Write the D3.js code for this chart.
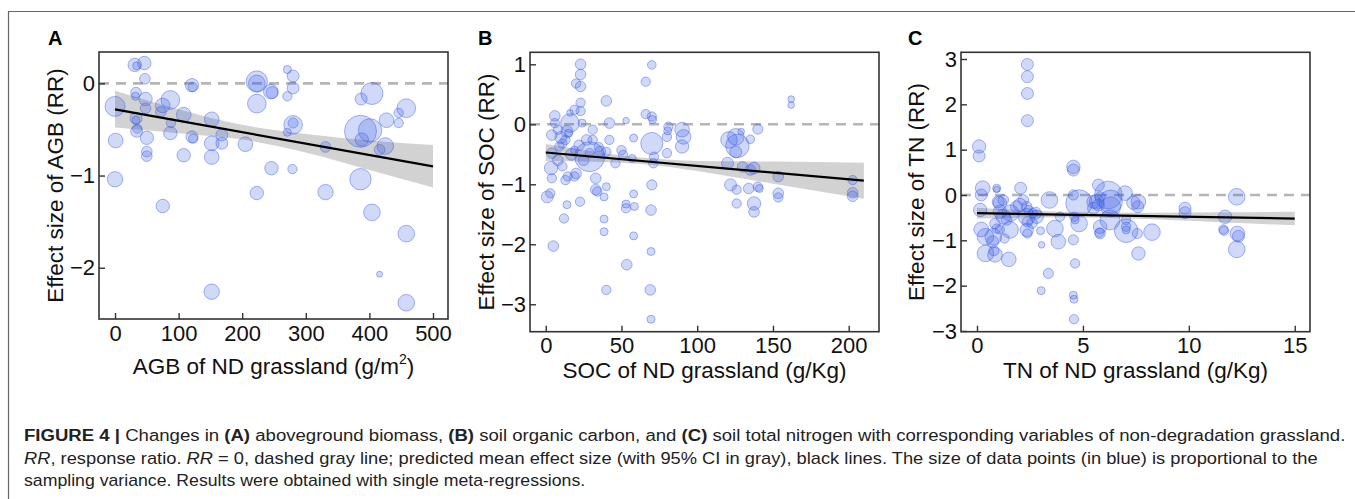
<!DOCTYPE html>
<html lang="en">
<head>
<meta charset="UTF-8">
<title>Figure 4</title>
<style>
  body { margin: 0; background: #fff; }
  svg { display: block; font-family: Arial, "Liberation Sans", sans-serif; }
</style>
</head>
<body>
<script src="https://d3js.org/d3.v7.min.js"></script>
<div id="fig"></div>
<script>
// ---- data ----
// (A) aboveground biomass
const agbX = [0, 1, 0, 31, 34, 46, 47, 33, 32, 48, 48, 33, 33, 34, 35, 50, 50, 50, 75, 87, 72, 87, 88, 108, 108,
  121, 122, 121, 123, 75, 152, 152, 152, 168, 168, 152, 205, 223, 223, 223, 223, 245, 247, 246, 271, 280, 280,
  271, 280, 280, 271, 279, 331, 331, 386, 388, 387, 404, 401, 386, 404, 416, 425, 427, 446, 446, 458, 458, 416, 458];
const agbRR = [-0.25, -0.62, -1.04, 0.20, 0.19, 0.22, 0.05, -0.10, -0.14, -0.17, -0.27, -0.38, -0.40, -0.52, -0.49,
  -0.59, -0.74, -0.79, -0.24, -0.18, -0.31, -0.54, -0.43, -0.34, -0.78, -0.02, -0.04, -0.58, -0.60, -1.33, -0.39,
  -0.65, -0.80, -0.56, -0.65, -2.26, -0.66, 0.02, 0.00, -0.22, -1.19, -0.09, -0.10, -0.92, 0.15, 0.08, -0.05, -0.14,
  -0.45, -0.43, -0.53, -0.93, -0.69, -1.18, -0.52, -0.61, -0.17, -0.11, -0.51, -1.04, -1.40, -0.72, -0.68, -0.40,
  -0.32, -0.43, -0.27, -1.63, -2.07, -2.38];
const agbVar = [0.78, 0.42, 0.46, 0.35, 0.125, 0.35, 0.22, 0.22, 0.125, 0.35, 0.22, 0.28, 0.125, 0.28, 0.17, 0.35,
  0.22, 0.22, 0.42, 0.68, 0.22, 0.35, 0.17, 0.42, 0.35, 0.35, 0.17, 0.28, 0.17, 0.35, 0.42, 0.42, 0.42, 0.28, 0.28,
  0.46, 0.42, 0.89, 0.54, 0.68, 0.35, 0.42, 0.28, 0.35, 0.125, 0.28, 0.28, 0.17, 0.68, 0.2, 0.125, 0.17, 0.22, 0.46,
  2.0, 0.35, 0.28, 0.95, 1.07, 0.89, 0.54, 0.22, 0.54, 0.42, 0.17, 0.17, 0.68, 0.54, 0.07, 0.54];
const agbFitX = [0, 500];
const agbFitY = [-0.283, -0.90];
const agbBandX = [0, 100, 200, 300, 400, 500];
const agbBandHi = [-0.08, -0.28, -0.45, -0.55, -0.62, -0.67];
const agbBandLo = [-0.48, -0.54, -0.61, -0.75, -0.94, -1.13];

// (B) soil organic carbon
const socX = [1, 3, 6, 6, 4, 4, 3.5, 4, 5, 8, 9, 11, 13, 14.5, 14, 12, 14, 15, 13, 11, 16, 16, 19, 20, 23, 23, 23,
  23, 23, 24, 19, 20, 19, 22.6, 27, 29, 29, 31, 31, 33, 33, 34, 38.5, 38.5, 38.5, 40, 42, 42, 40, 40, 40, 46, 50,
  51, 53, 53.5, 53, 53, 58, 58, 58.5, 58, 57, 66, 66, 70, 70, 70.5, 70, 71.5, 71, 70, 69.5, 69.5, 69, 69.5, 81, 80,
  80.5, 80, 90, 91, 90, 121, 126.5, 125.5, 125.5, 129, 135, 140, 120, 122, 126, 126, 130, 134, 135, 137.5, 137.5,
  137.5, 140, 141, 153.5, 153.5, 153.5, 162, 162, 202.6, 202.6, 202.6,
  10, 17, 22, 8, 25, 35, 36];
const socRR = [-1.21, -1.15, 0.14, 0.02, -0.18, -0.48, -0.73, -0.90, -2.03, -0.09, -0.37, -0.70, -0.93, -0.87,
  -1.34, -1.57, -0.12, -0.15, -0.26, -0.32, 0.02, 0.19, 0.24, 0.68, 1.00, 0.83, 0.63, 0.36, 0.22, 0.02, -0.43,
  -0.82, -0.87, -1.29, -0.26, -0.48, -0.54, -0.09, -0.26, -0.90, -1.09, -1.12, -1.21, -1.58, -1.79, 0.39, 0.02,
  -0.26, -0.46, -1.04, -2.76, -0.65, -0.43, -0.51, 0.06, -2.34, -1.40, -1.33, -1.16, -0.23, -1.37, -1.86, -0.57,
  0.71, 0.17, 0.99, 0.13, 0.08, -0.32, -0.54, -0.65, -1.01, -1.43, -2.12, -2.76, -3.25, -0.04, -0.21, -0.11, -0.48,
  -0.09, -0.21, -0.37, -0.26, -0.36, -0.21, -0.46, -0.12, -0.25, -0.08, -0.65, -1.01, -1.09, -1.32, -0.71, -1.07,
  -0.76, -0.73, -1.32, -1.46, -1.04, -1.07, -0.87, -1.15, -1.22, 0.42, 0.32, -0.93, -1.14, -1.20,
  -0.22, -0.50, -0.35, -0.60, -0.60, -0.38, -0.45];
const socVar = [0.28, 0.17, 0.22, 0.17, 0.22, 0.22, 0.35, 0.17, 0.22, 0.17, 0.17, 0.17, 0.17, 0.17, 0.125, 0.17,
  0.28, 0.125, 0.17, 0.17, 0.68, 0.085, 0.17, 0.17, 0.22, 0.22, 0.22, 0.17, 0.17, 0.125, 0.125, 0.22, 0.17, 0.17,
  0.22, 0.17, 1.76, 0.17, 0.17, 0.22, 0.22, 0.17, 0.125, 0.125, 0.125, 0.22, 0.22, 0.17, 0.17, 0.125, 0.17, 0.17,
  0.17, 0.17, 0.085, 0.22, 0.17, 0.125, 0.125, 0.125, 0.125, 0.125, 0.125, 0.17, 0.17, 0.145, 0.17, 0.125, 0.95,
  0.17, 0.17, 0.2, 0.22, 0.125, 0.22, 0.125, 0.17, 0.17, 0.125, 0.17, 0.42, 0.42, 0.35, 0.54, 1.07, 0.54, 0.28,
  0.085, 0.145, 0.2, 0.28, 0.28, 0.17, 0.17, 0.22, 0.22, 0.22, 0.28, 0.35, 0.22, 0.17, 0.125, 0.22, 0.22, 0.17,
  0.085, 0.085, 0.17, 0.22, 0.22,
  0.28, 0.28, 0.22, 0.22, 0.22, 0.17, 0.22];
const socFitX = [0, 210];
const socFitY = [-0.47, -0.94];
const socBandX = [0, 25, 50, 75, 100, 150, 210];
const socBandHi = [-0.33, -0.43, -0.52, -0.58, -0.61, -0.62, -0.64];
const socBandLo = [-0.61, -0.62, -0.64, -0.69, -0.78, -0.99, -1.24];

// (C) soil total nitrogen
const tnX = [0.1, 0.1, 0.27, 0.2, 0.15, 0.2, 0.4, 0.4, 0.74, 0.8, 0.93, 0.93, 1.0, 1.08, 0.85, 0.93, 1.08, 1.24,
  1.4, 1.3, 1.5, 1.58, 1.87, 2.06, 2.19, 2.35, 2.38, 2.38, 2.38, 2.38, 2.38, 2.38, 2.43, 2.63, 2.6, 2.76, 3.0, 3.05,
  3.03, 3.37, 3.42, 3.68, 3.84, 3.92, 4.55, 4.55, 4.55, 4.6, 4.63, 4.55, 4.63, 4.55, 4.58, 4.58, 4.82, 4.82, 5.73,
  5.5, 5.65, 5.73, 5.5, 5.81, 5.81, 5.81, 5.78, 6.31, 6.31, 6.2, 6.28, 6.99, 7.04, 7.04, 7.04, 7.04, 7.38, 7.62,
  7.59, 7.57, 7.62, 8.26, 9.82, 9.82, 11.71, 11.63, 11.66, 12.26, 12.29, 12.34, 12.26,
  0.85, 0.77, 1.56, 2.35, 2.35, 2.03, 2.82, 1.24, 1.08];
const tnRR = [1.07, 0.86, 0.15, 0.0, -0.33, -0.76, -0.92, -1.29, -1.03, -1.23, 0.15, 0.12, -0.15, -0.37, -0.63,
  -0.74, -0.76, -0.11, -0.55, -0.96, -1.42, -0.40, -0.26, 0.15, -0.11, -0.26, 2.88, 2.61, 2.24, 1.64, -0.59, -0.85,
  -0.33, -0.40, -0.62, -0.40, -0.79, -1.10, -2.11, -1.73, -0.11, -0.74, -1.03, -0.48, 0.62, 0.55, 0.0, -0.48,
  -0.55, -0.99, -1.51, -2.21, -2.30, -2.74, -0.18, -0.63, 0.22, -0.15, -0.15, -0.22, -0.29, -0.04, -0.70, -0.85,
  -0.83, -0.15, -0.26, 0.0, -0.55, 0.04, -0.55, -0.70, -0.77, -0.79, -0.17, -0.15, -0.26, -0.85, -1.29, -0.82,
  -0.29, -0.39, -0.48, -0.76, -0.79, -0.04, -0.85, -0.91, -1.20,
  -1.32, -0.92, -0.77, -0.77, -0.48, -0.22, -0.48, -0.48, -0.18];
const tnVar = [0.35, 0.28, 0.42, 0.28, 0.35, 0.42, 0.54, 0.54, 0.28, 0.2, 0.125, 0.085, 0.28, 0.35, 0.22, 0.17,
  0.17, 0.22, 0.22, 0.17, 0.42, 0.54, 0.28, 0.28, 0.22, 0.22, 0.28, 0.28, 0.28, 0.28, 0.22, 0.17, 0.17, 0.17, 0.22,
  0.28, 0.125, 0.085, 0.125, 0.2, 0.54, 0.54, 0.42, 0.17, 0.35, 0.28, 0.2, 0.17, 0.125, 0.2, 0.17, 0.125, 0.125,
  0.17, 1.38, 0.54, 0.28, 0.35, 0.42, 0.28, 0.28, 0.2, 0.35, 0.22, 0.17, 1.07, 0.78, 1.5, 0.78, 0.42, 0.17, 0.17,
  0.125, 1.07, 0.35, 0.42, 0.28, 0.2, 0.35, 0.54, 0.28, 0.28, 0.35, 0.17, 0.17, 0.54, 0.42, 0.28, 0.54,
  0.42, 0.54, 0.54, 0.35, 0.54, 0.35, 0.35, 0.42, 0.35];
const tnFitX = [0, 15];
const tnFitY = [-0.40, -0.52];
const tnBandX = [0, 4, 8, 12, 15];
const tnBandHi = [-0.28, -0.37, -0.39, -0.38, -0.37];
const tnBandLo = [-0.52, -0.49, -0.53, -0.61, -0.67];

// tick labels
const agbTicksX = [0, 100, 200, 300, 400, 500];
const agbTicksY = [-2, -1, 0];
const socTicksX = [0, 50, 100, 150, 200];
const socTicksY = [-3, -2, -1, 0, 1];
const tnTicksX = [0, 5, 10, 15];
const tnTicksY = [-3, -2, -1, 0, 1, 2, 3];

// ---- drawing ----
const W = 1355, H = 499;
const svg = d3.select("#fig").append("svg")
  .attr("width", W).attr("height", H);

svg.append("rect").attr("width", W).attr("height", H).attr("fill", "#fff");

// outer frame (left and top only)
svg.append("path")
  .attr("d", `M8.5,${H} V11.5 H${W}`)
  .attr("fill", "none").attr("stroke", "#666").attr("stroke-width", 1.2);

const rScale = d3.scaleSqrt().domain([0, 2]).range([0, 16]);
const ptColor = "#3a5ae6";

function drawPanel(p) {
  const x = d3.scaleLinear().domain(p.xDomain).range([p.left, p.right]);
  const y = d3.scaleLinear().domain(p.yDomain).range([p.bottom, p.top]);
  const g = svg.append("g");

  const clipId = "clip" + p.letter;
  svg.append("clipPath").attr("id", clipId)
    .append("rect")
    .attr("x", p.left).attr("y", p.top)
    .attr("width", p.right - p.left).attr("height", p.bottom - p.top);
  const inner = g.append("g").attr("clip-path", `url(#${clipId})`);

  // 95% CI band
  const band = p.bandX.map((v, i) => ({ x: v, hi: p.bandHi[i], lo: p.bandLo[i] }));
  inner.append("path")
    .datum(band)
    .attr("fill", "#d2d2d2")
    .attr("d", d3.area()
      .x(d => x(d.x)).y0(d => y(d.lo)).y1(d => y(d.hi))
      .curve(d3.curveMonotoneX));

  // RR = 0
  inner.append("line")
    .attr("x1", p.left).attr("x2", p.right)
    .attr("y1", y(0)).attr("y2", y(0))
    .attr("stroke", "#b5b5b5").attr("stroke-width", 2.6)
    .attr("stroke-dasharray", "10,7");

  // points
  const pts = p.xs.map((v, i) => ({ x: v, y: p.ys[i], v: p.vs[i] }));
  inner.append("g")
    .selectAll("circle")
    .data(pts)
    .join("circle")
    .attr("cx", d => x(d.x))
    .attr("cy", d => y(d.y))
    .attr("r", d => rScale(d.v))
    .attr("fill", ptColor).attr("fill-opacity", 0.23)
    .attr("stroke", ptColor).attr("stroke-opacity", 0.45).attr("stroke-width", 1);

  // fitted line
  const fit = p.fitX.map((v, i) => ({ x: v, y: p.fitY[i] }));
  inner.append("path")
    .datum(fit)
    .attr("fill", "none").attr("stroke", "#000").attr("stroke-width", 2.2)
    .attr("d", d3.line().x(d => x(d.x)).y(d => y(d.y)));

  // axes, ticks inward
  const ax = g.append("g")
    .attr("transform", `translate(0,${p.bottom})`)
    .call(d3.axisBottom(x).tickValues(p.ticksX).tickSize(-6).tickPadding(6).tickFormat(d3.format("d")));
  const ay = g.append("g")
    .attr("transform", `translate(${p.left},0)`)
    .call(d3.axisLeft(y).tickValues(p.ticksY).tickSize(-6).tickPadding(4).tickFormat(d3.format("d")));
  [ax, ay].forEach(a => {
    a.select(".domain").remove();
    a.selectAll("line").attr("stroke", "#333").attr("stroke-width", 1.4);
    a.selectAll("text").attr("font-size", 22).attr("fill", "#111")
      .attr("font-family", "Arial, 'Liberation Sans', sans-serif");
  });

  // panel box
  g.append("rect")
    .attr("x", p.left).attr("y", p.top)
    .attr("width", p.right - p.left).attr("height", p.bottom - p.top)
    .attr("fill", "none").attr("stroke", "#333").attr("stroke-width", 1.6);

  // panel letter
  g.append("text")
    .attr("x", p.letterX).attr("y", 45)
    .attr("font-size", 20).attr("font-weight", "bold")
    .text(p.letter);

  // y title
  g.append("text")
    .attr("transform", `translate(${p.yTitleX},${(p.top + p.bottom) / 2}) rotate(-90)`)
    .attr("text-anchor", "middle").attr("font-size", 22.5).attr("fill", "#111")
    .text(p.yTitle);

  // x title
  const xt = g.append("text")
    .attr("x", (p.left + p.right) / 2).attr("y", p.xTitleY)
    .attr("text-anchor", "middle").attr("font-size", 22.5).attr("fill", "#111");
  xt.append("tspan").text(p.xTitle);
  if (p.xSup) {
    xt.append("tspan").attr("font-size", 14).attr("dy", -10).text(p.xSup);
    xt.append("tspan").attr("dy", 10).text(p.xTail);
  }
}

drawPanel({
  letter: "A", letterX: 48,
  left: 99, right: 448, top: 52, bottom: 319,
  xDomain: [-25.2, 523.6], yDomain: [-2.556, 0.34],
  xs: agbX, ys: agbRR, vs: agbVar,
  fitX: agbFitX, fitY: agbFitY,
  bandX: agbBandX, bandHi: agbBandHi, bandLo: agbBandLo,
  ticksX: agbTicksX, ticksY: agbTicksY,
  yTitle: "Effect size of AGB (RR)", yTitleX: 63,
  xTitle: "AGB of ND grassland (g/m", xSup: "2", xTail: ")", xTitleY: 374
});

drawPanel({
  letter: "B", letterX: 478,
  left: 530, right: 879, top: 52.3, bottom: 331.7,
  xDomain: [-10.4, 220], yDomain: [-3.457, 1.2],
  xs: socX, ys: socRR, vs: socVar,
  fitX: socFitX, fitY: socFitY,
  bandX: socBandX, bandHi: socBandHi, bandLo: socBandLo,
  ticksX: socTicksX, ticksY: socTicksY,
  yTitle: "Effect size of SOC (RR)", yTitleX: 494,
  xTitle: "SOC of ND grassland (g/Kg)", xTitleY: 378
});

drawPanel({
  letter: "C", letterX: 908,
  left: 961, right: 1310, top: 52.3, bottom: 331.7,
  xDomain: [-0.755, 15.72], yDomain: [-3.016, 3.148],
  xs: tnX, ys: tnRR, vs: tnVar,
  fitX: tnFitX, fitY: tnFitY,
  bandX: tnBandX, bandHi: tnBandHi, bandLo: tnBandLo,
  ticksX: tnTicksX, ticksY: tnTicksY,
  yTitle: "Effect size of TN (RR)", yTitleX: 924,
  xTitle: "TN of ND grassland (g/Kg)", xTitleY: 378
});

// ---- caption ----
const captionLines = [
  [["FIGURE 4 |", "b"], [" Changes in ", ""], ["(A)", "b"], [" aboveground biomass, ", ""], ["(B)", "b"],
   [" soil organic carbon, and ", ""], ["(C)", "b"],
   [" soil total nitrogen with corresponding variables of non-degradation grassland.", ""]],
  [["RR", "i"], [", response ratio. ", ""], ["RR", "i"],
   [" = 0, dashed gray line; predicted mean effect size (with 95% CI in gray), black lines. The size of data points (in blue) is proportional to the", ""]],
  [["sampling variance. Results were obtained with single meta-regressions.", ""]]
];
const capY = [441, 464, 486];
const capWidth = [1321, 1294, 561];   // widths of the lines in the original
captionLines.forEach((parts, i) => {
  const t = svg.append("text")
    .attr("x", 0).attr("y", 0)
    .attr("font-size", 16.2).attr("fill", "#222");
  parts.forEach(([s, st]) => {
    const ts = t.append("tspan").text(s);
    if (st === "b") ts.attr("font-weight", "bold");
    if (st === "i") ts.attr("font-style", "italic");
  });
  const w = t.node().getComputedTextLength();
  t.attr("transform", `translate(24,${capY[i]}) scale(${capWidth[i] / w},1)`);
});
</script>
</body>
</html>
